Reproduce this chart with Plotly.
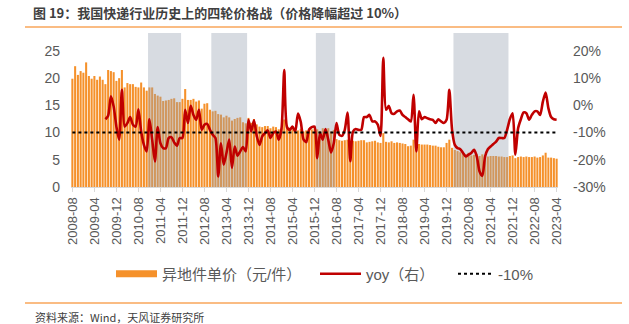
import plotly.graph_objects as go
import pandas as pd

# ---------------- data ----------------
months = [p.strftime("%Y-%m") for p in pd.period_range("2008-08", "2023-04", freq="M")]

price = [
    19.9, 22.2, 20.6, 21.3, 21.0, 22.9, 20.4, 19.9, 20.4, 19.7, 20.3, 19.7,
    18.9, 21.5, 21.3, 21.1, 19.5, 20.0, 21.5, 18.3, 19.1, 18.9, 18.9, 18.4,
    18.3, 19.2, 18.3, 17.7, 18.3, 18.3, 17.1, 16.8, 16.6, 15.8, 15.9, 16.0,
    16.2, 16.3, 15.6, 15.6, 16.2, 18.0, 16.0, 16.0, 16.2, 15.7, 15.9, 14.4,
    15.3, 15.4, 14.2, 13.9, 14.0, 13.4, 13.3, 12.8, 13.1, 12.8, 12.2, 12.5,
    12.7, 12.8, 11.9, 11.7, 12.7, 11.8, 12.5, 11.5, 11.1, 11.0, 11.2, 11.2,
    10.8, 11.1, 11.0, 10.6, 10.8, 12.4, 10.9, 10.9, 10.6, 10.5, 10.4, 10.7,
    10.2, 10.4, 10.8, 10.6, 10.8, 10.6, 10.3, 10.8, 10.4, 10.8, 10.2, 10.5,
    8.8, 8.6, 8.5, 8.6, 8.7, 8.3, 8.5, 8.4, 8.5, 8.6, 8.6, 8.2,
    8.3, 8.4, 8.5, 8.2, 8.1, 9.9, 8.3, 8.2, 8.4, 8.1, 8.2, 8.1,
    8.0, 7.9, 7.5, 7.6, 8.7, 7.8, 7.9, 7.8, 7.8, 7.8, 7.7, 7.6,
    7.6, 7.4, 7.3, 7.3, 8.1, 8.7, 7.2, 6.8, 6.6, 6.4, 6.3, 6.0,
    6.3, 5.8, 5.9, 6.1, 5.7, 6.0, 5.8, 5.6, 5.7, 5.7, 5.7, 5.6,
    5.6, 5.5, 5.5, 5.7, 5.8, 5.3, 5.5, 5.6, 5.5, 5.6, 5.5, 5.5,
    5.6, 5.4, 5.5, 5.8, 6.3, 5.4, 5.4, 5.3, 5.2,
]

yoy_months = months[12:]
yoy = [
    -5.1, -3.8, 3.3, -0.4, -7.8, -12.6, 5.7, -7.8, -6.5, -4.3, -7.1, -7.8,
    -1.4, -9.6, -14.5, -16.9, -5.1, -12.6, -20.6, -8.0, -13.9, -15.7, -15.7, -12.0,
    -11.7, -13.6, -14.8, -12.0, -12.0, -1.6, -6.5, -0.2, -3.5, -5.3, -1.6, -9.0,
    -7.1, -6.8, -9.0, -10.8, -12.0, -26.1, -13.9, -21.8, -17.5, -12.6, -23.0, -15.1,
    -18.5, -16.9, -15.3, -16.9, -5.3, -9.6, -5.5, -11.2, -14.5, -11.4, -10.2, -9.2,
    -12.0, -10.2, -9.6, -12.6, -8.7, 13.0, -8.0, -9.0, -7.8, -9.6, -3.0, -6.0,
    -12.5, -13.5, -9.0, -8.0, -7.8, -19.4, -10.2, -12.6, -8.7, -12.6, -17.3, -13.9,
    -6.5, -10.8, -11.2, -9.0, -2.6, -20.5, -9.6, -8.7, -9.0, -9.0, -4.3, -4.3,
    -3.5, -5.9, -5.9, -7.1, -11.2, 17.5, -1.6, -0.2, -2.9, -3.1, -2.2, -1.9,
    -3.5, -4.3, -5.1, -5.9, 3.9, -16.9, -2.2, -5.1, -4.3, -4.7, -5.1, -5.3,
    -6.5, -5.1, -5.9, -6.5, -5.3, 5.7, -9.0, -14.5, -15.7, -16.1, -17.5, -18.8,
    -18.1, -17.5, -16.3, -18.8, -24.3, -25.9, -18.8, -16.1, -15.1, -14.2, -13.3, -12.0,
    -12.0, -12.0, -9.0, -5.1, -2.9, -18.1, -8.4, -5.1, -2.6, -2.9, -5.3, -3.5,
    -2.2, -2.2, -3.5, 1.4, 4.7, -1.0, -4.3, -5.1, -5.3,
]

threshold = -10
price_wars = [("2010-12", "2011-11"), ("2012-11", "2013-11"),
              ("2016-01", "2016-07"), ("2020-03", "2021-10")]

tick_labels = months[::8]
left_ticks = [0, 5, 10, 15, 20, 25]
right_ticks = [-30, -20, -10, 0, 10, 20]
right_tick_text = [f"{v}%" for v in right_ticks]

# ---------------- figure ----------------
ORANGE = "#F5912B"
RED = "#C00000"
GREY_TXT = "#595959"
FONT = "Liberation Sans, Noto Sans CJK SC, sans-serif"
CJK = "Noto Sans CJK SC, sans-serif"
Y_MAX = 28.3
Y2_MIN, Y2_MAX = -30, 26.6

# pixel geometry helpers (plot area: x 71..558, y 33..187)
L, W, T, H = 71, 487, 33, 154
def px(x):
    return (x - L) / W
def py(y):
    return (T + H - y) / H

idx = {m: i for i, m in enumerate(months)}
x_all = list(range(len(months)))

fig = go.Figure()

fig.add_trace(go.Bar(x=x_all, y=price, marker=dict(color=ORANGE, line=dict(width=0)),
                     showlegend=False, name="异地件单价（元/件）", hoverinfo="skip"))

for s, e in price_wars:
    a, b = idx[s] - 0.5, idx[e] + 0.5
    fig.add_trace(go.Scatter(x=[a, b, b, a, a], y=[0, 0, Y_MAX, Y_MAX, 0], mode="lines",
                             fill="toself", fillcolor="rgba(150,160,176,0.38)",
                             line=dict(width=0), showlegend=False, hoverinfo="skip"))

fig.add_trace(go.Scatter(x=[None], y=[None], mode="lines", legend="legend",
                         line=dict(color=ORANGE, width=7), name="异地件单价（元/件）"))

fig.add_trace(go.Scatter(x=[idx[m] for m in yoy_months], y=yoy, yaxis="y2", mode="lines",
                         line=dict(color=RED, width=2.6, shape="spline", smoothing=0.7),
                         name="yoy（右）", legend="legend2"))

fig.add_trace(go.Scatter(x=x_all, y=[threshold] * len(x_all), yaxis="y2", mode="lines",
                         line=dict(color="black", width=2, dash="dot"), name="-10%",
                         legend="legend3"))

leg_common = dict(orientation="h", xanchor="left", yanchor="middle", y=py(274),
                  font=dict(size=15, color=GREY_TXT, family=FONT),
                  bgcolor="rgba(0,0,0,0)", borderwidth=0)

fig.update_layout(
    width=629, height=324,
    margin=dict(l=L, r=629 - L - W, t=T, b=324 - T - H),
    paper_bgcolor="white", plot_bgcolor="white",
    font=dict(family=FONT, color=GREY_TXT, size=14),
    bargap=0.25, barmode="overlay",
    xaxis=dict(range=[-0.5, len(months) - 0.5], tickmode="array",
               tickvals=[idx[m] for m in tick_labels], ticktext=tick_labels,
               tickangle=-90, ticks="outside", ticklen=4, tickcolor="#D9D9D9",
               showline=True, linecolor="#D9D9D9", showgrid=False, zeroline=False,
               tickfont=dict(size=13, color=GREY_TXT)),
    yaxis=dict(range=[0, Y_MAX], tickmode="array", tickvals=left_ticks, showgrid=False,
               zeroline=False, ticks="", tickfont=dict(size=14, color=GREY_TXT),
               ticklabelstandoff=10),
    yaxis2=dict(range=[Y2_MIN, Y2_MAX], overlaying="y", side="right", tickmode="array",
                tickvals=right_ticks, ticktext=right_tick_text, showgrid=False,
                zeroline=False, ticks="", tickfont=dict(size=14, color=GREY_TXT),
                ticklabelstandoff=14),
    legend=dict(leg_common, x=px(111), itemwidth=41),
    legend2=dict(leg_common, x=px(315), itemwidth=41),
    legend3=dict(leg_common, x=px(453), itemwidth=35),
    title=dict(text="图 19：我国快递行业历史上的四轮价格战（价格降幅超过 10%）",
               x=33 / 629, xanchor="left", xref="container",
               y=1 - 13.5 / 324, yanchor="middle", yref="container",
               font=dict(size=13, color="#404040", family=CJK, weight="bold")),
)

# decorative rules
fig.add_shape(type="line", xref="paper", yref="paper",
              x0=px(25), x1=px(622), y0=py(27), y1=py(27),
              line=dict(color="#F8A65A", width=1.5))
fig.add_shape(type="line", xref="paper", yref="paper",
              x0=px(25), x1=px(622), y0=py(303), y1=py(303),
              line=dict(color="#F8A65A", width=1.5))
fig.add_annotation(text="资料来源：Wind，天风证券研究所", xref="paper", yref="paper",
                   x=px(33), y=py(317), xanchor="left", yanchor="middle",
                   showarrow=False, font=dict(size=11, color="#404040", family=CJK))

fig.write_html("out.html")
